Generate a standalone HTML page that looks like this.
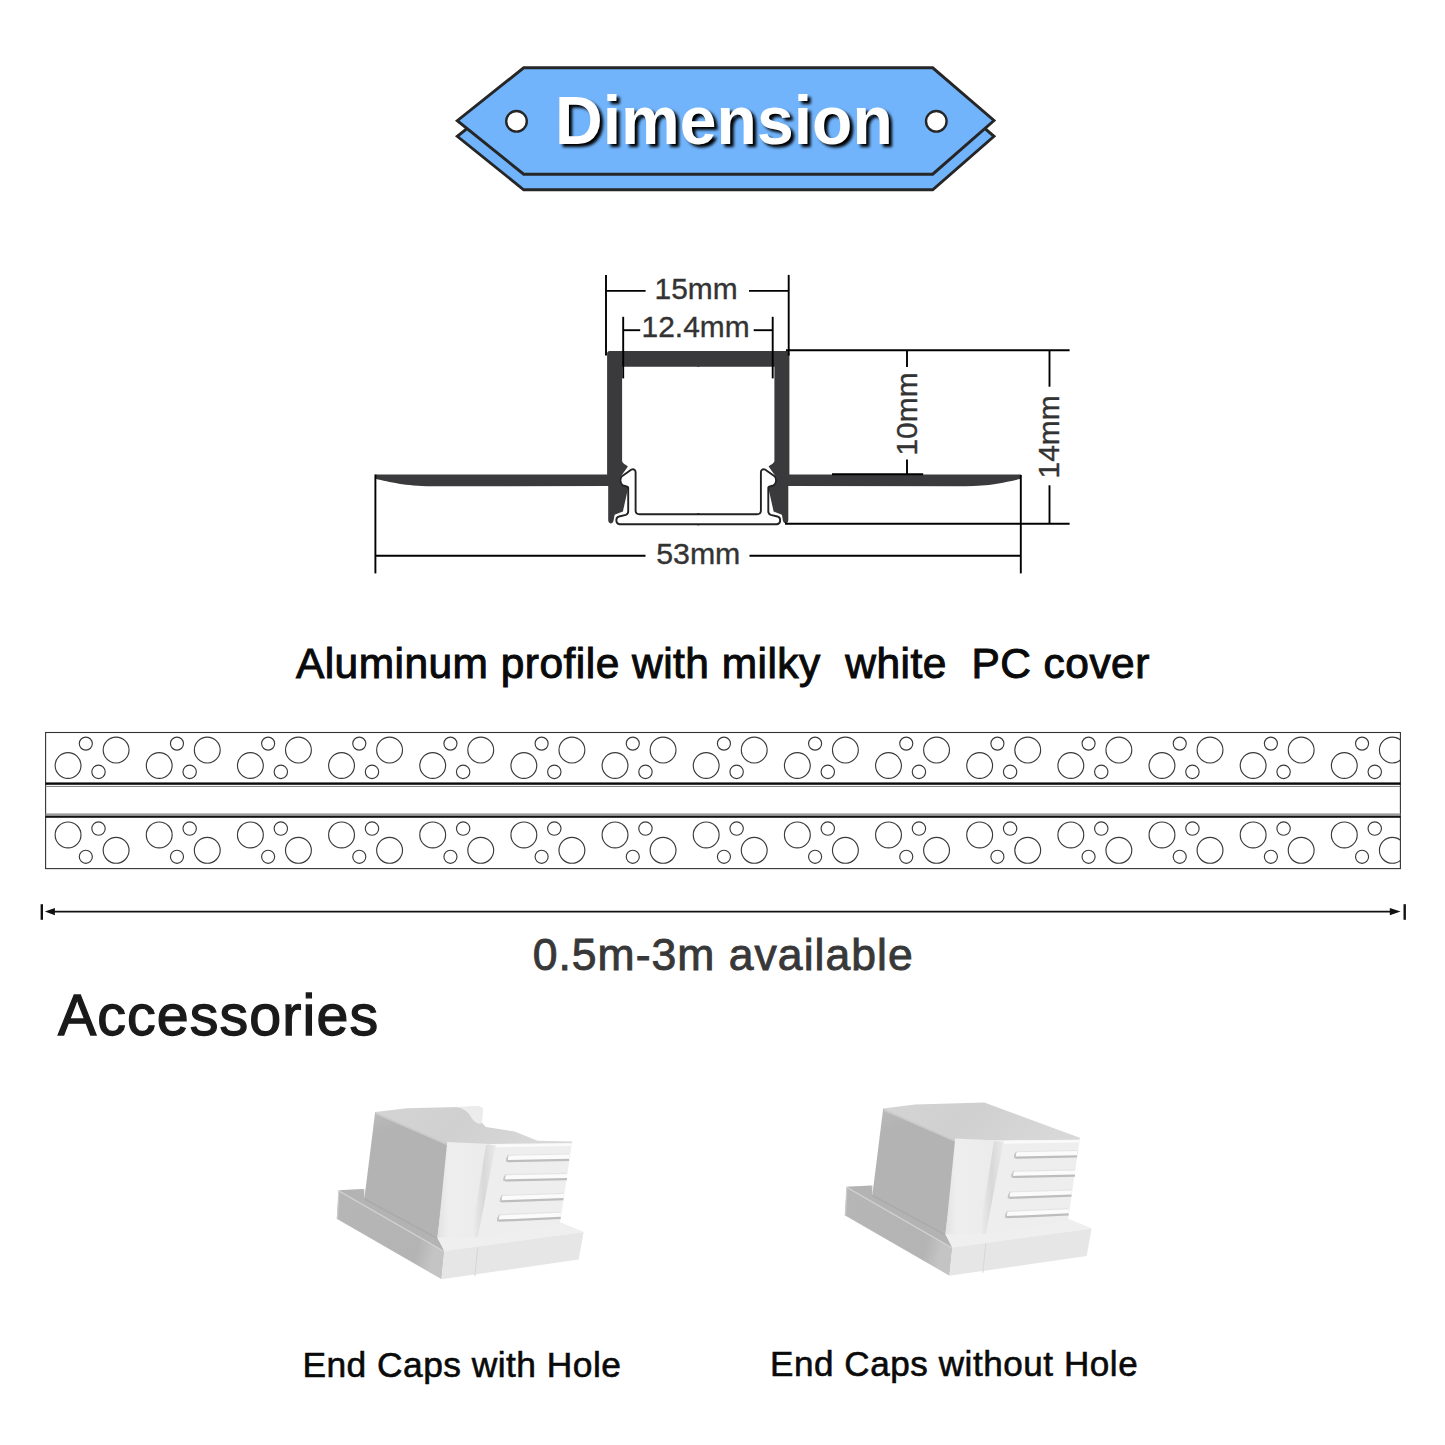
<!DOCTYPE html>
<html><head><meta charset="utf-8">
<style>
html,body{margin:0;padding:0;background:#fff;width:1445px;height:1445px;overflow:hidden}
svg{position:absolute;left:0;top:0;display:block}
text{font-family:"Liberation Sans",sans-serif}
</style></head>
<body>
<svg width="1445" height="1445" viewBox="0 0 1445 1445">
<defs>
<filter id="shd" x="-10%" y="-30%" width="130%" height="160%">
<feGaussianBlur stdDeviation="1.4"/>
</filter>
</defs>

<!-- ===== Banner ===== -->
<g stroke="#262626" stroke-width="2.9" stroke-linejoin="miter" fill="#71b4fc">
<polygon points="523.7,83.5 932.7,83.5 994,136.3 932.7,189.8 523.7,189.8 457.3,136.3"/>
<polygon points="523.7,67.8 932.7,67.8 994,120.5 932.7,174.2 523.7,174.2 457.3,120.7"/>
</g>
<g stroke="#262626" stroke-width="2.4" fill="#fff">
<circle cx="516.5" cy="121.3" r="10.3"/>
<circle cx="936.3" cy="121.3" r="10.3"/>
</g>
<text transform="translate(558.3,146.8) scale(0.972,1)" font-size="68" font-weight="bold" fill="#000" filter="url(#shd)">Dimension</text>
<text transform="translate(555.0,143.5) scale(0.972,1)" font-size="68" font-weight="bold" fill="#fff">Dimension</text>

<!-- ===== Profile drawing ===== -->
<g id="alu">
<path id="aluL" fill="#3a3a3c" d="M375.4,474.4 L607.1,474.4 L607.1,353.6 Q607.1,351 609.7,351 L699.5,351 L699.5,366.7 L622.1,366.7 L622.1,461 C622.5,464 626.5,464.5 627.9,466.6 L621.5,475.5 Q617.5,481.5 622.9,485.6 L628.4,486.8 L622.9,511.4 L614.6,514.7 L613.5,521 Q612.8,523.6 610.7,523.4 Q608.2,523 608.2,519.7 L608.2,486.1 L431.4,486.2 C405,486 390,482 375.4,478.7 Z"/>
<use href="#aluL" transform="translate(1396.5,0) scale(-1,1)"/>
</g>
<g id="cov" fill="#fff" stroke="#222" stroke-width="1.9" stroke-linejoin="round">
<path d="M699.5,524.3 L619.5,524.3 Q616.5,523.8 616.4,521 L616.4,519.5 Q616.8,516.8 619,516.5 L625.8,514.8 Q628.2,513.8 628.2,511.5 L628.2,487.5 Q628,486.5 626,486.2 L623,485.5 Q618.5,481.5 621.6,476.5 L631.5,469.5 Q633.8,468.5 635.2,470.5 Q635.6,471.5 635.6,473 L635.6,510.8 Q635.8,514.3 639.5,514.3 L699.5,514.3"/>
<path d="M699.5,524.3 L619.5,524.3 Q616.5,523.8 616.4,521 L616.4,519.5 Q616.8,516.8 619,516.5 L625.8,514.8 Q628.2,513.8 628.2,511.5 L628.2,487.5 Q628,486.5 626,486.2 L623,485.5 Q618.5,481.5 621.6,476.5 L631.5,469.5 Q633.8,468.5 635.2,470.5 Q635.6,471.5 635.6,473 L635.6,510.8 Q635.8,514.3 639.5,514.3 L699.5,514.3" transform="translate(1396.5,0) scale(-1,1)"/>
</g>
<g stroke="#000" stroke-width="1.9" fill="none">
<!-- 15mm -->
<line x1="606" y1="274.9" x2="606" y2="355.6"/>
<line x1="788.7" y1="274.9" x2="788.7" y2="355.6"/>
<line x1="606" y1="290.9" x2="645.6" y2="290.9"/>
<line x1="749" y1="290.9" x2="788.7" y2="290.9"/>
<!-- 12.4mm -->
<line x1="623.2" y1="316.8" x2="623.2" y2="378.4"/>
<line x1="772.7" y1="316.8" x2="772.7" y2="378.4"/>
<line x1="623.2" y1="330.2" x2="640.2" y2="330.2"/>
<line x1="753.7" y1="330.2" x2="772.7" y2="330.2"/>
<!-- extension lines right -->
<line x1="786" y1="350.3" x2="1069.6" y2="350.3"/>
<line x1="785" y1="523.7" x2="1069.6" y2="523.7"/>
<!-- 10mm -->
<line x1="907" y1="350" x2="907" y2="367"/>
<line x1="907" y1="459.4" x2="907" y2="474.5"/>
<line x1="832" y1="474.3" x2="923.2" y2="474.3"/>
<!-- 14mm -->
<line x1="1049.5" y1="350" x2="1049.5" y2="386.7"/>
<line x1="1049.5" y1="485.3" x2="1049.5" y2="523.7"/>
<!-- 53mm -->
<line x1="375.4" y1="474.5" x2="375.4" y2="573.4"/>
<line x1="1020.8" y1="475" x2="1020.8" y2="573.4"/>
<line x1="375.4" y1="555.7" x2="645.5" y2="555.7"/>
<line x1="749.5" y1="555.7" x2="1020.8" y2="555.7"/>
</g>
<g fill="#333" stroke="#333" stroke-width="0.35" font-size="29.9">
<text x="654.6" y="298.5">15mm</text>
<text x="641.6" y="336.6">12.4mm</text>
<text x="656.2" y="563.9" font-size="30.3">53mm</text>
<text transform="translate(917,455.5) rotate(-90)">10mm</text>
<text transform="translate(1059.2,478.4) rotate(-90)">14mm</text>
</g>

<!-- ===== Caption ===== -->
<text x="295.90" y="678.10" font-size="42.46" letter-spacing="0.48" fill="#0a0a0a" stroke="#0a0a0a" stroke-width="1.0" style="white-space:pre">Aluminum profile with milky  white  PC cover</text>

<!-- ===== Strip ===== -->
<clipPath id="clipS"><rect x="45.6" y="732" width="1354.8" height="137"/></clipPath>
<g clip-path="url(#clipS)" fill="none" stroke="#3a3a3a" stroke-width="1.15">
<circle cx="68.06" cy="765.50" r="12.92"/>
<circle cx="68.06" cy="834.90" r="12.92"/>
<circle cx="85.81" cy="743.60" r="6.54"/>
<circle cx="85.81" cy="856.80" r="6.54"/>
<circle cx="98.51" cy="771.85" r="6.70"/>
<circle cx="98.51" cy="828.55" r="6.70"/>
<circle cx="116.11" cy="750.05" r="12.92"/>
<circle cx="116.11" cy="850.35" r="12.92"/>
<circle cx="159.22" cy="765.50" r="12.92"/>
<circle cx="159.22" cy="834.90" r="12.92"/>
<circle cx="176.97" cy="743.60" r="6.54"/>
<circle cx="176.97" cy="856.80" r="6.54"/>
<circle cx="189.67" cy="771.85" r="6.70"/>
<circle cx="189.67" cy="828.55" r="6.70"/>
<circle cx="207.27" cy="750.05" r="12.92"/>
<circle cx="207.27" cy="850.35" r="12.92"/>
<circle cx="250.38" cy="765.50" r="12.92"/>
<circle cx="250.38" cy="834.90" r="12.92"/>
<circle cx="268.13" cy="743.60" r="6.54"/>
<circle cx="268.13" cy="856.80" r="6.54"/>
<circle cx="280.83" cy="771.85" r="6.70"/>
<circle cx="280.83" cy="828.55" r="6.70"/>
<circle cx="298.43" cy="750.05" r="12.92"/>
<circle cx="298.43" cy="850.35" r="12.92"/>
<circle cx="341.54" cy="765.50" r="12.92"/>
<circle cx="341.54" cy="834.90" r="12.92"/>
<circle cx="359.29" cy="743.60" r="6.54"/>
<circle cx="359.29" cy="856.80" r="6.54"/>
<circle cx="371.99" cy="771.85" r="6.70"/>
<circle cx="371.99" cy="828.55" r="6.70"/>
<circle cx="389.59" cy="750.05" r="12.92"/>
<circle cx="389.59" cy="850.35" r="12.92"/>
<circle cx="432.70" cy="765.50" r="12.92"/>
<circle cx="432.70" cy="834.90" r="12.92"/>
<circle cx="450.45" cy="743.60" r="6.54"/>
<circle cx="450.45" cy="856.80" r="6.54"/>
<circle cx="463.15" cy="771.85" r="6.70"/>
<circle cx="463.15" cy="828.55" r="6.70"/>
<circle cx="480.75" cy="750.05" r="12.92"/>
<circle cx="480.75" cy="850.35" r="12.92"/>
<circle cx="523.86" cy="765.50" r="12.92"/>
<circle cx="523.86" cy="834.90" r="12.92"/>
<circle cx="541.61" cy="743.60" r="6.54"/>
<circle cx="541.61" cy="856.80" r="6.54"/>
<circle cx="554.31" cy="771.85" r="6.70"/>
<circle cx="554.31" cy="828.55" r="6.70"/>
<circle cx="571.91" cy="750.05" r="12.92"/>
<circle cx="571.91" cy="850.35" r="12.92"/>
<circle cx="615.02" cy="765.50" r="12.92"/>
<circle cx="615.02" cy="834.90" r="12.92"/>
<circle cx="632.77" cy="743.60" r="6.54"/>
<circle cx="632.77" cy="856.80" r="6.54"/>
<circle cx="645.47" cy="771.85" r="6.70"/>
<circle cx="645.47" cy="828.55" r="6.70"/>
<circle cx="663.07" cy="750.05" r="12.92"/>
<circle cx="663.07" cy="850.35" r="12.92"/>
<circle cx="706.18" cy="765.50" r="12.92"/>
<circle cx="706.18" cy="834.90" r="12.92"/>
<circle cx="723.93" cy="743.60" r="6.54"/>
<circle cx="723.93" cy="856.80" r="6.54"/>
<circle cx="736.63" cy="771.85" r="6.70"/>
<circle cx="736.63" cy="828.55" r="6.70"/>
<circle cx="754.23" cy="750.05" r="12.92"/>
<circle cx="754.23" cy="850.35" r="12.92"/>
<circle cx="797.34" cy="765.50" r="12.92"/>
<circle cx="797.34" cy="834.90" r="12.92"/>
<circle cx="815.09" cy="743.60" r="6.54"/>
<circle cx="815.09" cy="856.80" r="6.54"/>
<circle cx="827.79" cy="771.85" r="6.70"/>
<circle cx="827.79" cy="828.55" r="6.70"/>
<circle cx="845.39" cy="750.05" r="12.92"/>
<circle cx="845.39" cy="850.35" r="12.92"/>
<circle cx="888.50" cy="765.50" r="12.92"/>
<circle cx="888.50" cy="834.90" r="12.92"/>
<circle cx="906.25" cy="743.60" r="6.54"/>
<circle cx="906.25" cy="856.80" r="6.54"/>
<circle cx="918.95" cy="771.85" r="6.70"/>
<circle cx="918.95" cy="828.55" r="6.70"/>
<circle cx="936.55" cy="750.05" r="12.92"/>
<circle cx="936.55" cy="850.35" r="12.92"/>
<circle cx="979.66" cy="765.50" r="12.92"/>
<circle cx="979.66" cy="834.90" r="12.92"/>
<circle cx="997.41" cy="743.60" r="6.54"/>
<circle cx="997.41" cy="856.80" r="6.54"/>
<circle cx="1010.11" cy="771.85" r="6.70"/>
<circle cx="1010.11" cy="828.55" r="6.70"/>
<circle cx="1027.71" cy="750.05" r="12.92"/>
<circle cx="1027.71" cy="850.35" r="12.92"/>
<circle cx="1070.82" cy="765.50" r="12.92"/>
<circle cx="1070.82" cy="834.90" r="12.92"/>
<circle cx="1088.57" cy="743.60" r="6.54"/>
<circle cx="1088.57" cy="856.80" r="6.54"/>
<circle cx="1101.27" cy="771.85" r="6.70"/>
<circle cx="1101.27" cy="828.55" r="6.70"/>
<circle cx="1118.87" cy="750.05" r="12.92"/>
<circle cx="1118.87" cy="850.35" r="12.92"/>
<circle cx="1161.98" cy="765.50" r="12.92"/>
<circle cx="1161.98" cy="834.90" r="12.92"/>
<circle cx="1179.73" cy="743.60" r="6.54"/>
<circle cx="1179.73" cy="856.80" r="6.54"/>
<circle cx="1192.43" cy="771.85" r="6.70"/>
<circle cx="1192.43" cy="828.55" r="6.70"/>
<circle cx="1210.03" cy="750.05" r="12.92"/>
<circle cx="1210.03" cy="850.35" r="12.92"/>
<circle cx="1253.14" cy="765.50" r="12.92"/>
<circle cx="1253.14" cy="834.90" r="12.92"/>
<circle cx="1270.89" cy="743.60" r="6.54"/>
<circle cx="1270.89" cy="856.80" r="6.54"/>
<circle cx="1283.59" cy="771.85" r="6.70"/>
<circle cx="1283.59" cy="828.55" r="6.70"/>
<circle cx="1301.19" cy="750.05" r="12.92"/>
<circle cx="1301.19" cy="850.35" r="12.92"/>
<circle cx="1344.30" cy="765.50" r="12.92"/>
<circle cx="1344.30" cy="834.90" r="12.92"/>
<circle cx="1362.05" cy="743.60" r="6.54"/>
<circle cx="1362.05" cy="856.80" r="6.54"/>
<circle cx="1374.75" cy="771.85" r="6.70"/>
<circle cx="1374.75" cy="828.55" r="6.70"/>
<circle cx="1392.35" cy="750.05" r="12.92"/>
<circle cx="1392.35" cy="850.35" r="12.92"/>
</g>
<rect x="45.6" y="732.5" width="1354.8" height="136.1" fill="none" stroke="#333" stroke-width="1.1"/>
<rect x="45.6" y="782.4" width="1354.8" height="2.4" fill="#0a0a0a"/>
<rect x="45.6" y="785.9" width="1354.8" height="1.1" fill="#8a8a8a"/>
<rect x="45.6" y="813.4" width="1354.8" height="2.4" fill="#9a9a9a"/>
<rect x="45.6" y="815.8" width="1354.8" height="2.0" fill="#111"/>

<!-- ===== Length arrow ===== -->
<g stroke="#111" fill="#111">
<line x1="50" y1="911.6" x2="1395" y2="911.6" stroke-width="1.6"/>
<line x1="41.8" y1="904.2" x2="41.8" y2="919.8" stroke-width="2.4"/>
<line x1="1404.7" y1="904.2" x2="1404.7" y2="919.8" stroke-width="2.4"/>
<polygon points="44.9,911.6 54.9,908 54.9,915.2" stroke="none"/>
<polygon points="1400.6,911.6 1389.8,908 1389.8,915.2" stroke="none"/>
</g>
<text x="532.65" y="970.10" font-size="44.51" letter-spacing="1.03" fill="#383838" stroke="#383838" stroke-width="0.9" style="white-space:pre">0.5m-3m available</text>

<!-- ===== Accessories ===== -->
<text x="57.90" y="1035.25" font-size="57.39" letter-spacing="1.09" fill="#1a1a1a" stroke="#1a1a1a" stroke-width="1.3" style="white-space:pre">Accessories</text>
<text x="302.40" y="1376.50" font-size="35.36" letter-spacing="0.47" fill="#0a0a0a" stroke="#0a0a0a" stroke-width="0.6" style="white-space:pre">End Caps with Hole</text>
<text x="770.00" y="1376.40" font-size="35.07" letter-spacing="0.55" fill="#0a0a0a" stroke="#0a0a0a" stroke-width="0.6" style="white-space:pre">End Caps without Hole</text>

<!-- CAPS START -->
<linearGradient id="gLeft" x1="0" y1="0" x2="0.25" y2="1">
<stop offset="0" stop-color="#bcbcbc"/><stop offset="0.2" stop-color="#b3b3b3"/><stop offset="1" stop-color="#b3b3b3"/>
</linearGradient>
<linearGradient id="gTop" x1="0" y1="0" x2="1" y2="0.2">
<stop offset="0" stop-color="#d4d4d4"/><stop offset="0.5" stop-color="#d0d0d0"/><stop offset="1" stop-color="#d8d8d8"/>
</linearGradient>
<linearGradient id="gPlateL" x1="0" y1="0" x2="1" y2="0.2">
<stop offset="0" stop-color="#b6b6b6"/><stop offset="0.85" stop-color="#b4b4b4"/><stop offset="1" stop-color="#c4c4c4"/>
</linearGradient>
<linearGradient id="gFront" x1="0" y1="0" x2="1" y2="0">
<stop offset="0" stop-color="#e2e2e2"/><stop offset="0.2" stop-color="#eeeeee"/><stop offset="1" stop-color="#ebebeb"/>
</linearGradient>
<linearGradient id="gGroove" x1="0" y1="0" x2="1" y2="0">
<stop offset="0" stop-color="#f0f0f0"/><stop offset="0.5" stop-color="#d8d8d8"/><stop offset="1" stop-color="#ebebeb"/>
</linearGradient>
<linearGradient id="gLeft1" x1="0" y1="0" x2="0.25" y2="1">
<stop offset="0" stop-color="#bcbcbc"/><stop offset="0.2" stop-color="#b3b3b3"/><stop offset="1" stop-color="#b3b3b3"/>
</linearGradient>
<linearGradient id="gPlateL1" x1="0" y1="0" x2="1" y2="0.2">
<stop offset="0" stop-color="#b6b6b6"/><stop offset="0.85" stop-color="#b4b4b4"/><stop offset="1" stop-color="#c4c4c4"/>
</linearGradient>
<g id="cap1">
<polygon fill="#e8e8e8" points="338.8,1190.3 363.7,1189.0 561.4,1222.9 583.6,1231.9 444.3,1251.0"/>
<polygon fill="url(#gPlateL1)" points="338.8,1191.0 444.3,1251.7 441.5,1279.2 336.7,1218.7"/>
<polyline fill="none" stroke="#cdcdcd" stroke-width="1.2" points="337.5,1218.5 338.8,1191.0 444.3,1251.7"/>
<polygon fill="#e6e6e6" points="444.3,1251.0 583.6,1231.9 578.7,1259.6 441.5,1279.2"/>
<line x1="477.7" y1="1247.1" x2="474.9" y2="1276.2" stroke="#d6d6d6" stroke-width="1"/>
<polygon fill="#b3b3b3" points="363.7,1189.0 364.4,1198.4 437.3,1237.6 444.3,1251.0 338.8,1190.3"/>
<polygon fill="url(#gLeft1)" points="375.2,1112.0 449.5,1144.4 437.3,1237.6 364.4,1198.4"/>
<line x1="364.4" y1="1198.9" x2="437.3" y2="1238.1" stroke="#a9a9a9" stroke-width="1.6"/>
<polygon fill="url(#gTop)" points="375.2,1112.0 406.9,1108.3 479.0,1106.4 482.5,1108.0 482.0,1123.0 486.0,1127.0 514.6,1131.5 537.5,1140.7 572.5,1141.4 571.8,1143.3 491.5,1144.0 449.5,1144.4"/>
<path fill="#ececec" d="M456.0,1106.9 L479.0,1106.4 Q482.8,1106.7 482.6,1110.0 L482.0,1123.0 Q477.0,1125.5 472.0,1118.5 Q467.0,1108.5 456.0,1106.9 Z"/>
<polyline fill="none" stroke="#cacaca" stroke-width="2" points="376.0,1113.3 449.5,1145.3"/>
<polygon fill="url(#gFront)" points="447.2,1141.9 491.5,1144.0 476.3,1237.5 437.5,1238.8"/>
<polygon fill="url(#gGroove)" points="486.0,1145.0 496.5,1144.7 480.5,1237.5 471.0,1237.5"/>
<polygon fill="#eeeeee" points="495.7,1144.7 571.8,1143.3 560.0,1223.6 477.7,1237.4"/>
<polyline fill="none" stroke="#fafafa" stroke-width="2.5" points="495.7,1146.0 571.3,1144.7"/>
<polygon fill="#fbfbfb" points="506.7,1155.3 569.0,1154.0 569.0,1159.4 506.7,1160.7"/>
<line x1="506.7" y1="1155.3" x2="569.0" y2="1154.0" stroke="#e4e4e4" stroke-width="1.2"/>
<line x1="507.7" y1="1161.1" x2="569.0" y2="1159.8" stroke="#bdbdbd" stroke-width="2.2"/>
<path fill="#c4c4c4" d="M509.2,1155.1 Q505.7,1156.0 505.9,1161.7 L508.2,1161.7 Q507.2,1157.5 509.2,1155.1 Z"/>
<polygon fill="#fbfbfb" points="504.0,1174.7 567.0,1173.3 567.0,1178.7 504.0,1180.1"/>
<line x1="504.0" y1="1174.7" x2="567.0" y2="1173.3" stroke="#e4e4e4" stroke-width="1.2"/>
<line x1="505.0" y1="1180.5" x2="567.0" y2="1179.1" stroke="#bdbdbd" stroke-width="2.2"/>
<path fill="#c4c4c4" d="M506.5,1174.5 Q503.0,1175.4 503.2,1181.1 L505.5,1181.1 Q504.5,1176.9 506.5,1174.5 Z"/>
<polygon fill="#fbfbfb" points="500.5,1195.5 563.5,1193.4 563.5,1198.8 500.5,1200.9"/>
<line x1="500.5" y1="1195.5" x2="563.5" y2="1193.4" stroke="#e4e4e4" stroke-width="1.2"/>
<line x1="501.5" y1="1201.3" x2="563.5" y2="1199.2" stroke="#bdbdbd" stroke-width="2.2"/>
<path fill="#c4c4c4" d="M503.0,1195.3 Q499.5,1196.2 499.7,1201.9 L502.0,1201.9 Q501.0,1197.7 503.0,1195.3 Z"/>
<polygon fill="#fbfbfb" points="497.7,1214.9 560.7,1212.1 560.7,1217.5 497.7,1220.3"/>
<line x1="497.7" y1="1214.9" x2="560.7" y2="1212.1" stroke="#e4e4e4" stroke-width="1.2"/>
<line x1="498.7" y1="1220.7" x2="560.7" y2="1217.9" stroke="#bdbdbd" stroke-width="2.2"/>
<path fill="#c4c4c4" d="M500.2,1214.7 Q496.7,1215.6 496.9,1221.3 L499.2,1221.3 Q498.2,1217.1 500.2,1214.7 Z"/>
<polygon fill="#efefef" points="437.3,1237.6 477.7,1237.4 560.0,1223.6 561.4,1222.9 583.6,1231.9 444.3,1251.0"/>
</g>
<g id="cap2">
<polygon fill="#e8e8e8" points="846.8,1186.8 871.7,1185.5 1069.4,1219.4 1091.6,1228.4 952.3,1247.5"/>
<polygon fill="url(#gPlateL)" points="846.8,1187.5 952.3,1248.2 949.5,1275.7 844.7,1215.2"/>
<polyline fill="none" stroke="#cdcdcd" stroke-width="1.2" points="845.5,1215.0 846.8,1187.5 952.3,1248.2"/>
<polygon fill="#e6e6e6" points="952.3,1247.5 1091.6,1228.4 1086.7,1256.1 949.5,1275.7"/>
<line x1="985.7" y1="1243.6" x2="982.9" y2="1272.7" stroke="#d6d6d6" stroke-width="1"/>
<polygon fill="#b3b3b3" points="871.7,1185.5 872.4,1194.9 945.3,1234.1 952.3,1247.5 846.8,1186.8"/>
<polygon fill="url(#gLeft)" points="883.2,1108.5 957.5,1140.9 945.3,1234.1 872.4,1194.9"/>
<line x1="872.4" y1="1195.4" x2="945.3" y2="1234.6" stroke="#a9a9a9" stroke-width="1.6"/>
<polygon fill="url(#gTop)" points="883.2,1108.5 914.9,1104.5 984.3,1102.5 1079.8,1137.8 1079.8,1139.8 999.5,1140.5 957.5,1140.9"/>
<polyline fill="none" stroke="#cacaca" stroke-width="2" points="884.0,1109.8 957.5,1141.8"/>
<polygon fill="url(#gFront)" points="955.2,1138.4 999.5,1140.5 984.3,1234.0 945.5,1235.3"/>
<polygon fill="url(#gGroove)" points="994.0,1141.5 1004.5,1141.2 988.5,1234.0 979.0,1234.0"/>
<polygon fill="#eeeeee" points="1003.7,1141.2 1079.8,1139.8 1068.0,1220.1 985.7,1233.9"/>
<polyline fill="none" stroke="#fafafa" stroke-width="2.5" points="1003.7,1142.5 1079.3,1141.2"/>
<polygon fill="#fbfbfb" points="1014.7,1151.8 1077.0,1150.5 1077.0,1155.9 1014.7,1157.2"/>
<line x1="1014.7" y1="1151.8" x2="1077.0" y2="1150.5" stroke="#e4e4e4" stroke-width="1.2"/>
<line x1="1015.7" y1="1157.6" x2="1077.0" y2="1156.3" stroke="#bdbdbd" stroke-width="2.2"/>
<path fill="#c4c4c4" d="M1017.2,1151.6 Q1013.7,1152.5 1013.9,1158.2 L1016.2,1158.2 Q1015.2,1154.0 1017.2,1151.6 Z"/>
<polygon fill="#fbfbfb" points="1012.0,1171.2 1075.0,1169.8 1075.0,1175.2 1012.0,1176.6"/>
<line x1="1012.0" y1="1171.2" x2="1075.0" y2="1169.8" stroke="#e4e4e4" stroke-width="1.2"/>
<line x1="1013.0" y1="1177.0" x2="1075.0" y2="1175.6" stroke="#bdbdbd" stroke-width="2.2"/>
<path fill="#c4c4c4" d="M1014.5,1171.0 Q1011.0,1171.9 1011.2,1177.6 L1013.5,1177.6 Q1012.5,1173.4 1014.5,1171.0 Z"/>
<polygon fill="#fbfbfb" points="1008.5,1192.0 1071.5,1189.9 1071.5,1195.3 1008.5,1197.4"/>
<line x1="1008.5" y1="1192.0" x2="1071.5" y2="1189.9" stroke="#e4e4e4" stroke-width="1.2"/>
<line x1="1009.5" y1="1197.8" x2="1071.5" y2="1195.7" stroke="#bdbdbd" stroke-width="2.2"/>
<path fill="#c4c4c4" d="M1011.0,1191.8 Q1007.5,1192.7 1007.7,1198.4 L1010.0,1198.4 Q1009.0,1194.2 1011.0,1191.8 Z"/>
<polygon fill="#fbfbfb" points="1005.7,1211.4 1068.7,1208.6 1068.7,1214.0 1005.7,1216.8"/>
<line x1="1005.7" y1="1211.4" x2="1068.7" y2="1208.6" stroke="#e4e4e4" stroke-width="1.2"/>
<line x1="1006.7" y1="1217.2" x2="1068.7" y2="1214.4" stroke="#bdbdbd" stroke-width="2.2"/>
<path fill="#c4c4c4" d="M1008.2,1211.2 Q1004.7,1212.1 1004.9,1217.8 L1007.2,1217.8 Q1006.2,1213.6 1008.2,1211.2 Z"/>
<polygon fill="#efefef" points="945.3,1234.1 985.7,1233.9 1068.0,1220.1 1069.4,1219.4 1091.6,1228.4 952.3,1247.5"/>
</g>
<!-- CAPS END -->
</svg>
</body></html>
